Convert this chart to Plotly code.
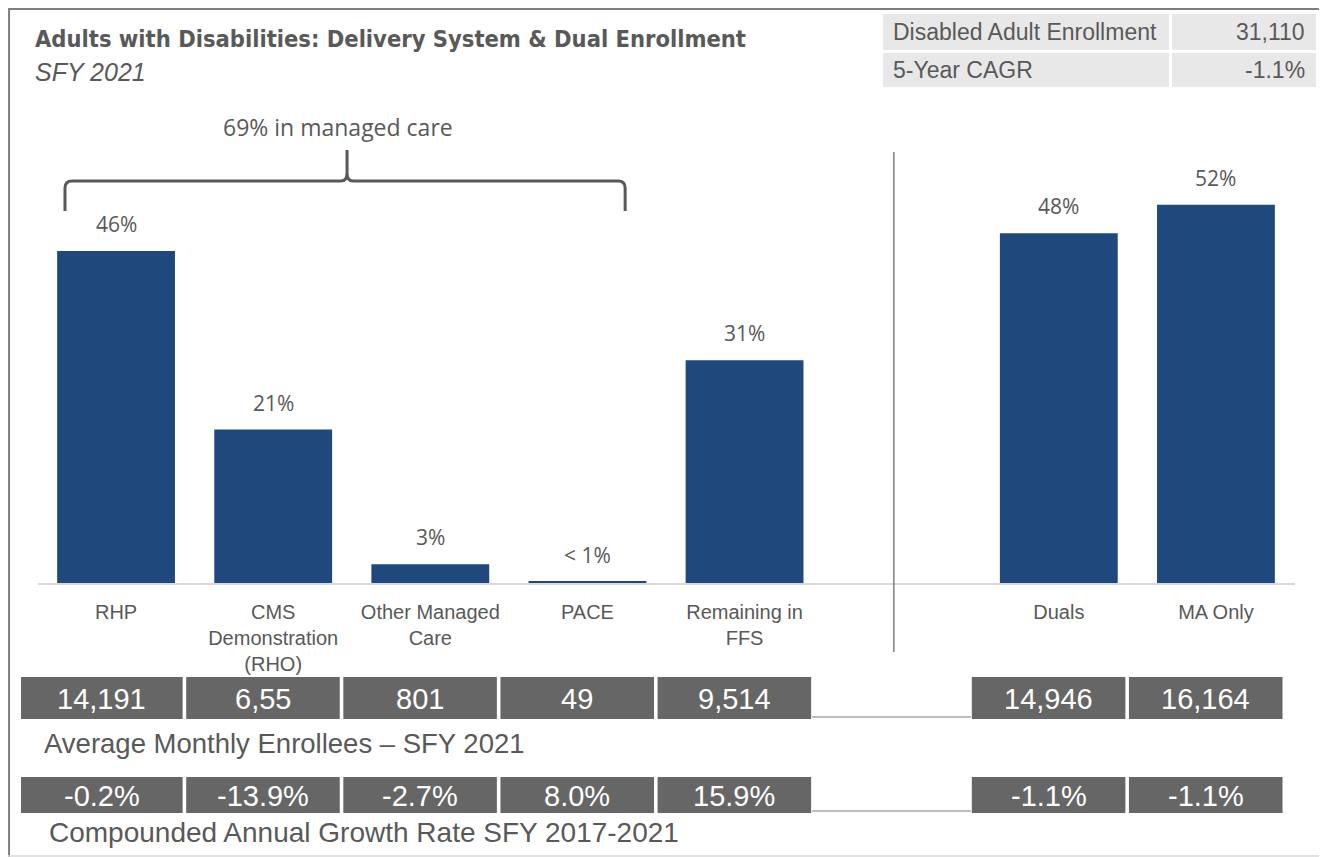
import plotly.graph_objects as go

# ---------------- data ----------------
categories = ["RHP", "CMS<br>Demonstration<br>(RHO)", "Other Managed<br>Care", "PACE",
              "Remaining in<br>FFS", "Duals", "MA Only"]
positions = [0, 1, 2, 3, 4, 6, 7]
enrollees = [14191, 6555, 801, 49, 9514, 14946, 16164]
total_enrollment = 31110
pct_labels = ["46%", "21%", "3%", "< 1%", "31%", "48%", "52%"]
enrollee_labels = ["14,191", "6,55", "801", "49", "9,514", "14,946", "16,164"]
cagr_labels = ["-0.2%", "-13.9%", "-2.7%", "8.0%", "15.9%", "-1.1%", "-1.1%"]
summary_labels = ["Disabled Adult Enrollment", "5-Year CAGR"]
summary_values = ["31,110", "-1.1%"]
managed_care_label = "69% in managed care"

shares = [v / total_enrollment for v in enrollees]

# ---------------- geometry (screen pixels; page body adds an 8px offset) ----------------
W, H = 1327, 857
OFF = 8
PX_L, PX_R, PY_T, PY_B = 37.5, 1294.5, 100, 583
X_RANGE = [-0.5, 7.5]
PX_PER_UNIT_Y = 728.0
Y_RANGE = [0, (PY_B - PY_T) / PX_PER_UNIT_Y]

GRAY_TXT = "#595959"
BAR_COLOR = "#1f497d"
BOX_COLOR = "#666666"
COND = "Liberation Sans Narrow, DejaVu Sans Condensed, Arial Narrow, sans-serif"
BOOK = "Liberation Sans, Arial, sans-serif"
OPEN = "Open Sans, sans-serif"


def px(x):
    return (x - OFF) / W


def py(y):
    return 1 - (y - OFF) / H


def xdata_px(v):
    return PX_L + (v - X_RANGE[0]) / (X_RANGE[1] - X_RANGE[0]) * (PX_R - PX_L)


fig = go.Figure()
fig.add_trace(go.Bar(
    x=positions, y=shares, width=0.75,
    marker=dict(color=BAR_COLOR, line=dict(width=0)),
    hoverinfo="skip", showlegend=False,
))

shapes = []
annotations = []

# value labels above bars
for pos, s, lab in zip(positions, shares, pct_labels):
    annotations.append(dict(x=pos, y=s, xref="x", yref="y", text=lab, showarrow=False,
                            yanchor="middle", yshift=27,
                            font=dict(family=OPEN, size=21, color=GRAY_TXT)))

# frame
shapes.append(dict(type="line", xref="paper", yref="paper", x0=0.0008, x1=0.0008, y0=0, y1=1,
                   line=dict(color="#7f7f7f", width=2)))
shapes.append(dict(type="line", xref="paper", yref="paper", x0=0, x1=1, y0=0.9988, y1=0.9988,
                   line=dict(color="#7f7f7f", width=2)))
shapes.append(dict(type="line", xref="paper", yref="paper", x0=0, x1=1, y0=py(856), y1=py(856),
                   line=dict(color="#d9d9d9", width=1.5)))

# separator
sep_px = xdata_px(4.95)
shapes.append(dict(type="line", xref="paper", yref="paper", x0=px(sep_px), x1=px(sep_px),
                   y0=py(152), y1=py(652), line=dict(color="#808080", width=1.5)))

# brace
bl = xdata_px(-0.325)
br = xdata_px(3.24)
bc = xdata_px(1.47)
yh, yb, ys = 181, 211, 150
pts = [("M", bl, yb), ("L", bl, yh + 7), ("Q", bl, yh, bl + 7, yh), ("L", bc - 6, yh),
       ("Q", bc, yh, bc, yh - 8), ("L", bc, ys), ("M", bc, yh - 8), ("Q", bc, yh, bc + 6, yh),
       ("L", br - 7, yh), ("Q", br, yh, br, yh + 7), ("L", br, yb)]
path = ""
for p in pts:
    cmd = p[0]
    coords = p[1:]
    segs = []
    for i in range(0, len(coords), 2):
        segs.append(f"{px(coords[i]):.5f},{py(coords[i+1]):.5f}")
    path += cmd + " " + " ".join(segs) + " "
shapes.append(dict(type="path", xref="paper", yref="paper", path=path.strip(),
                   line=dict(color=GRAY_TXT, width=3)))
annotations.append(dict(x=px(bc - 9), y=py(127), xref="paper", yref="paper", text=managed_care_label,
                        showarrow=False, xanchor="center", yanchor="middle",
                        font=dict(family=OPEN, size=23, color=GRAY_TXT)))

# bottom table rows
rows = [(enrollee_labels, 677, 719), (cagr_labels, 777, 813)]
for labels, top, bot in rows:
    cells = []
    for i, pos in enumerate(positions):
        left = xdata_px(pos - 0.56)
        right = xdata_px(pos + 0.43)
        if i == 0:
            left = 20
        cells.append((left, right))
    for (left, right), lab in zip(cells, labels):
        shapes.append(dict(type="rect", xref="paper", yref="paper", x0=px(left + 1), x1=px(right - 1),
                           y0=py(bot), y1=py(top), fillcolor=BOX_COLOR, line=dict(width=0)))
        annotations.append(dict(x=px((left + right) / 2), y=py((top + bot) / 2 + 1), xref="paper", yref="paper",
                                text=lab, showarrow=False, xanchor="center", yanchor="middle",
                                font=dict(family=BOOK, size=29, color="white")))
    shapes.append(dict(type="line", xref="paper", yref="paper", x0=px(cells[4][1]), x1=px(cells[5][0]),
                       y0=py(bot - 2), y1=py(bot - 2), line=dict(color="#a6a6a6", width=1.5)))

annotations.append(dict(x=px(42), y=py(743), xref="paper", yref="paper",
                        text="Average Monthly Enrollees \u2013 SFY 2021", showarrow=False,
                        xanchor="left", yanchor="middle", font=dict(family=BOOK, size=27.5, color=GRAY_TXT)))
annotations.append(dict(x=px(47), y=py(832), xref="paper", yref="paper",
                        text="Compounded Annual Growth Rate SFY 2017-2021", showarrow=False,
                        xanchor="left", yanchor="middle", font=dict(family=BOOK, size=28, color=GRAY_TXT)))

# title
annotations.append(dict(x=px(33), y=py(39), xref="paper", yref="paper",
                        text="<b>Adults with Disabilities: Delivery System &amp; Dual Enrollment</b>",
                        showarrow=False, xanchor="left", yanchor="middle",
                        font=dict(family=COND, size=23.5, color=GRAY_TXT)))
annotations.append(dict(x=px(33), y=py(72), xref="paper", yref="paper", text="<i>SFY 2021</i>",
                        showarrow=False, xanchor="left", yanchor="middle",
                        font=dict(family=BOOK, size=25, color=GRAY_TXT)))

# summary table
srows = [(14, 50), (53, 87)]
for (top, bot), lab, val in zip(srows, summary_labels, summary_values):
    shapes.append(dict(type="rect", xref="paper", yref="paper", x0=px(883), x1=px(1169),
                       y0=py(bot), y1=py(top), fillcolor="#e8e8e8", line=dict(width=0)))
    shapes.append(dict(type="rect", xref="paper", yref="paper", x0=px(1172), x1=px(1316),
                       y0=py(bot), y1=py(top), fillcolor="#e8e8e8", line=dict(width=0)))
    annotations.append(dict(x=px(891), y=py((top + bot) / 2), xref="paper", yref="paper", text=lab,
                            showarrow=False, xanchor="left", yanchor="middle",
                            font=dict(family=BOOK, size=23, color=GRAY_TXT)))
    annotations.append(dict(x=px(1307), y=py((top + bot) / 2), xref="paper", yref="paper", text=val,
                            showarrow=False, xanchor="right", yanchor="middle",
                            font=dict(family=BOOK, size=23, color=GRAY_TXT)))

fig.update_layout(
    width=W, height=H, autosize=False,
    margin=dict(l=0, r=0, t=0, b=0),
    paper_bgcolor="white", plot_bgcolor="white",
    shapes=shapes, annotations=annotations,
    bargap=0.25,
    xaxis=dict(domain=[px(PX_L), px(PX_R)], range=X_RANGE, tickvals=positions, ticktext=categories,
               showgrid=False, zeroline=False, showline=True, linecolor="#d9d9d9", linewidth=2,
               ticks="outside", ticklen=10, tickcolor="rgba(0,0,0,0)",
               tickfont=dict(family=BOOK, size=20, color=GRAY_TXT), fixedrange=True),
    yaxis=dict(domain=[py(PY_B), py(PY_T)], range=Y_RANGE, visible=False, fixedrange=True),
)

fig.write_html("out.html")
